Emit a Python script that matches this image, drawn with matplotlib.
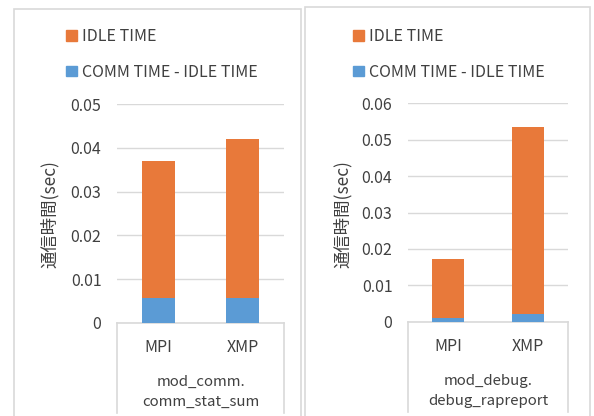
import matplotlib
matplotlib.use("Agg")
import matplotlib.pyplot as plt
from matplotlib.lines import Line2D
from matplotlib.patches import Rectangle, Patch

plt.rcParams['font.family'] = ['Noto Sans CJK JP', 'DejaVu Sans']

# Data
categories = ["MPI", "XMP"]
comm_total_left = [0.037, 0.042]
comm_minus_idle_left = [0.0057, 0.0057]
comm_total_right = [0.0171, 0.0536]
comm_minus_idle_right = [0.0009, 0.0021]
idle_left = [t - c for t, c in zip(comm_total_left, comm_minus_idle_left)]
idle_right = [t - c for t, c in zip(comm_total_right, comm_minus_idle_right)]

group_labels = ["mod_comm.\ncomm_stat_sum", "mod_debug.\ndebug_rapreport"]
y_max = [0.05, 0.06]
ylabel = "通信時間(sec)"

ORANGE = "#E8793A"
BLUE = "#5B9BD5"
GRID = "#D9D9D9"
TEXT = "#404040"

W, H = 594, 416
fig = plt.figure(figsize=(W / 100, H / 100), dpi=100)


def px(x0, y0, x1, y1):
    """Pixel box (top-left origin) to figure-fraction rect."""
    return [x0 / W, 1 - y1 / H, (x1 - x0) / W, (y1 - y0) / H]


# panel frames
for (x0, y0, x1) in [(14, 9, 301), (305, 7, 590)]:
    fig.patches.append(Rectangle((x0 / W, -0.05), (x1 - x0) / W, 1 - y0 / H + 0.05,
                                 transform=fig.transFigure, fill=False,
                                 edgecolor=GRID, linewidth=1.2))

panels = [
    (px(116.7, 104.3, 284.3, 322.7), idle_left, comm_minus_idle_left, 50, 68),
    (px(407.7, 103.3, 568.3, 321.7), idle_right, comm_minus_idle_right, 343, 355),
]

for i, (rect, idle, base, ylab_x, leg_x) in enumerate(panels):
    ax = fig.add_axes(rect)
    x = range(len(categories))
    ax.bar(x, base, width=0.4, color=BLUE, zorder=3)
    ax.bar(x, idle, width=0.4, bottom=base, color=ORANGE, zorder=3)
    ax.set_xlim(-0.5, 1.5)
    ax.set_ylim(0, y_max[i])
    n = int(round(y_max[i] * 100))
    ax.set_yticks([k / 100 for k in range(n + 1)])
    ax.set_yticklabels(["0" if k == 0 else f"{k / 100:.2f}" for k in range(n + 1)])
    ax.set_xticks(list(x))
    ax.set_xticklabels(categories)
    ax.tick_params(axis="both", length=0, colors=TEXT, labelsize=11.5)
    ax.tick_params(axis="y", pad=11)
    ax.tick_params(axis="x", pad=12)
    ax.grid(axis="y", color=GRID, linewidth=1, zorder=0)
    for s in ["left", "right", "top"]:
        ax.spines[s].set_visible(False)
    ax.spines["bottom"].set_color(GRID)
    ax.spines["bottom"].set_linewidth(1.2)

    # category box sides
    depth = 90 / (rect[3] * H)
    for xa in (0, 1):
        ax.add_line(Line2D([xa, xa], [0, -depth], transform=ax.transAxes,
                           color=GRID, linewidth=1.2, clip_on=False))
    ax.text(0.5, -69 / (rect[3] * H), group_labels[i], transform=ax.transAxes,
            ha="center", va="center", color=TEXT, fontsize=10.8, linespacing=1.55)

    fig.text(ylab_x / W, 1 - 214 / H, ylabel, rotation=90, ha="center", va="center",
             color=TEXT, fontsize=12.5)

    handles = [Patch(color=ORANGE), Patch(color=BLUE)]
    fig.legend(handles, ["IDLE TIME", "COMM TIME - IDLE TIME"],
               loc="upper left", bbox_to_anchor=((leg_x - 8) / W, 1 - 22 / H),
               frameon=False, fontsize=11.5, labelcolor=TEXT,
               handlelength=0.65, handleheight=0.65, handletextpad=0.3,
               labelspacing=1.15, borderaxespad=0)

fig.savefig("out.png", dpi=100)
